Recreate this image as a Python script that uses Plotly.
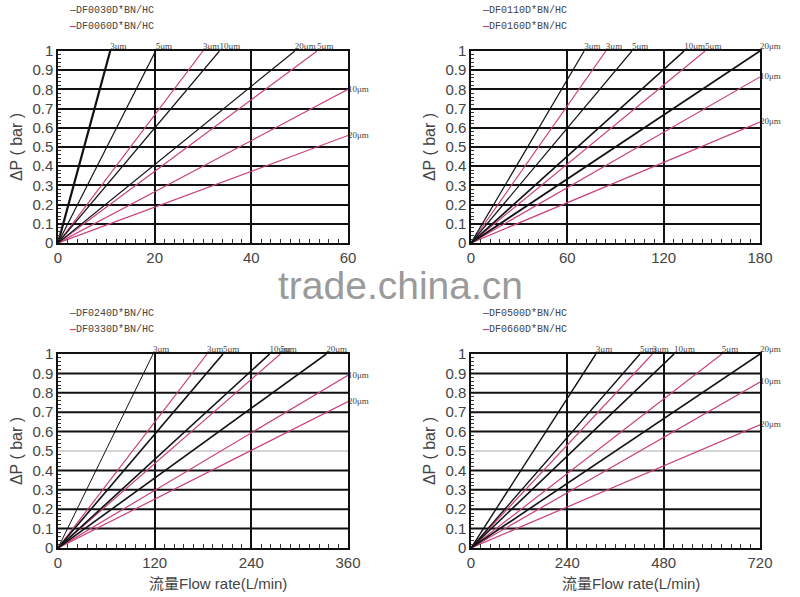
import plotly.graph_objects as go

# ---- data (line end points, lines start at origin) ----
labels = ["3μm", "5μm", "10μm", "20μm"]

# panel 1: DF0030 (black) / DF0060 (pink), flow 0-60
p1_black_x = [10.8, 20.2, 33.4, 49.0]
p1_black_y = [1.0, 1.0, 1.0, 1.0]
p1_pink_x = [30.0, 53.6, 60.0, 60.0]
p1_pink_y = [1.0, 1.0, 0.80, 0.56]

# panel 2: DF0110 / DF0160, flow 0-180
p2_black_x = [70.5, 100.2, 132.8, 180.0]
p2_black_y = [1.0, 1.0, 1.0, 1.0]
p2_pink_x = [84.0, 145.8, 180.0, 180.0]
p2_pink_y = [1.0, 1.0, 0.865, 0.63]

# panel 3: DF0240 / DF0330, flow 0-360
p3_black_x = [118.0, 204.8, 262.7, 333.0]
p3_black_y = [1.0, 1.0, 1.0, 1.0]
p3_pink_x = [185.0, 276.0, 360.0, 360.0]
p3_pink_y = [1.0, 1.0, 0.89, 0.755]

# panel 4: DF0500 / DF0660, flow 0-720
p4_black_x = [311.0, 421.0, 506.0, 720.0]
p4_black_y = [1.0, 1.0, 1.0, 1.0]
p4_pink_x = [452.0, 625.0, 720.0, 720.0]
p4_pink_y = [1.0, 1.0, 0.855, 0.635]

black_names = ["DF0030D*BN/HC", "DF0110D*BN/HC", "DF0240D*BN/HC", "DF0500D*BN/HC"]
pink_names = ["DF0060D*BN/HC", "DF0160D*BN/HC", "DF0330D*BN/HC", "DF0660D*BN/HC"]
x_max = [60, 180, 360, 720]
x_step = [20, 60, 120, 240]
grid_y = [0.1, 0.2, 0.3, 0.4, 0.5, 0.6, 0.7, 0.8, 0.9]

# black line widths (some lines are drawn heavier in the original)
black_widths = [[2.2, 1.2, 1.2, 1.2], [1.2, 1.2, 1.6, 1.8], [1.0, 1.6, 1.6, 1.6], [1.4, 1.4, 1.6, 1.6]]

panels = [
    (p1_black_x, p1_black_y, p1_pink_x, p1_pink_y),
    (p2_black_x, p2_black_y, p2_pink_x, p2_pink_y),
    (p3_black_x, p3_black_y, p3_pink_x, p3_pink_y),
    (p4_black_x, p4_black_y, p4_pink_x, p4_pink_y),
]

PINK = "#c8407c"
W, H = 800, 597


def px(x):
    return x / W


def py(y):
    return 1 - y / H


# plot areas in window pixels: (left, right, top, bottom)
boxes = [(58, 348, 51, 243), (471, 760, 51, 243), (58, 348, 354, 548), (471, 760, 354, 548)]

fig = go.Figure()
lab_font = dict(family="Liberation Serif", size=9, color="#444")

for i, (bx, by, pxs, pys) in enumerate(panels):
    xa = "x" if i == 0 else f"x{i+1}"
    ya = "y" if i == 0 else f"y{i+1}"
    for j in range(4):
        for xs, ys, col, w in [(pxs, pys, PINK, 1.2), (bx, by, "#111", black_widths[i][j])]:
            end_top = ys[j] >= 0.999
            fig.add_trace(go.Scatter(
                x=[0, xs[j]], y=[0, ys[j]], xaxis=xa, yaxis=ya,
                mode="lines+text", text=["", labels[j]],
                textposition="top right" if end_top else "middle right",
                textfont=lab_font, cliponaxis=False,
                line=dict(color=col, width=w), showlegend=False, hoverinfo="skip"))

for i, (l, r, t, b) in enumerate(boxes):
    xk = "xaxis" if i == 0 else f"xaxis{i+1}"
    yk = "yaxis" if i == 0 else f"yaxis{i+1}"
    ya = "y" if i == 0 else f"y{i+1}"
    xa = "x" if i == 0 else f"x{i+1}"
    lower = i >= 2
    fig.layout[xk] = dict(
        domain=[px(l), px(r)], anchor=ya, range=[0, x_max[i]], dtick=x_step[i],
        showgrid=True, gridcolor="#111", gridwidth=1.5, zeroline=False,
        showline=True, linecolor="#111", linewidth=1.5, mirror=True,
        ticks="", tickfont=dict(family="Liberation Sans", size=15, color="#444"),
        minor=dict(dtick=x_step[i] / 10, ticks="inside", ticklen=4, tickcolor="#333", showgrid=False),
        automargin=False, fixedrange=True)
    fig.layout[yk] = dict(
        domain=[py(b), py(t)], anchor=xa, range=[0, 1], dtick=0.1,
        showgrid=not lower, gridcolor="#111", gridwidth=2, zeroline=False,
        showline=True, linecolor="#111", linewidth=1.5, mirror=True,
        ticks="", tickfont=dict(family="Liberation Sans", size=15, color="#444"),
        tickformat="~g",
        minor=dict(dtick=0.02, ticks="inside", ticklen=3, tickcolor="#333", showgrid=False),
        title=dict(text="ΔP ( bar )", font=dict(family="Liberation Sans", size=16, color="#444"), standoff=6),
        automargin=False, fixedrange=True)
    # legend text above each panel
    fig.add_annotation(xref="paper", yref="paper", x=px(l + 9), y=py(t - 41),
                       xanchor="left", yanchor="middle", showarrow=False,
                       text="—" + black_names[i],
                       font=dict(family="Liberation Mono", size=10, color="#444"))
    fig.add_annotation(xref="paper", yref="paper", x=px(l + 9), y=py(t - 24),
                       xanchor="left", yanchor="middle", showarrow=False,
                       text=f"<span style='color:{PINK}'><b>—</b></span>" + pink_names[i],
                       font=dict(family="Liberation Mono", size=10, color="#444"))
    if lower:
        # lower panels: horizontal rules drawn by hand so the 0.5 one can be light
        for g in grid_y:
            fig.add_shape(type="line", xref=xa + " domain", yref=ya, x0=0, x1=1, y0=g, y1=g,
                          line=dict(color="#aaa" if abs(g - 0.5) < 1e-9 else "#111",
                                    width=1 if abs(g - 0.5) < 1e-9 else 2),
                          layer="below")
        fig.add_annotation(xref="paper", yref="paper", x=px((l + r) / 2 + 15), y=py(583),
                           xanchor="center", yanchor="middle", showarrow=False,
                           text="流量Flow rate(L/min)",
                           font=dict(family="Liberation Sans, Noto Sans CJK SC", size=15, color="#444"))

# watermark
fig.add_annotation(xref="paper", yref="paper", x=px(400), y=py(285), showarrow=False,
                   text="trade.china.cn", xanchor="center", yanchor="middle",
                   font=dict(family="Liberation Sans", size=39, color="#9a9a9a"))

fig.update_layout(width=W, height=H, margin=dict(l=0, r=0, t=0, b=0, autoexpand=False),
                  paper_bgcolor="white", plot_bgcolor="white", showlegend=False)

# drop the default page margin so the figure sits in the window corner
fig.write_html("out.html", config={"displayModeBar": False},
               post_script="document.body.style.margin='0';")
